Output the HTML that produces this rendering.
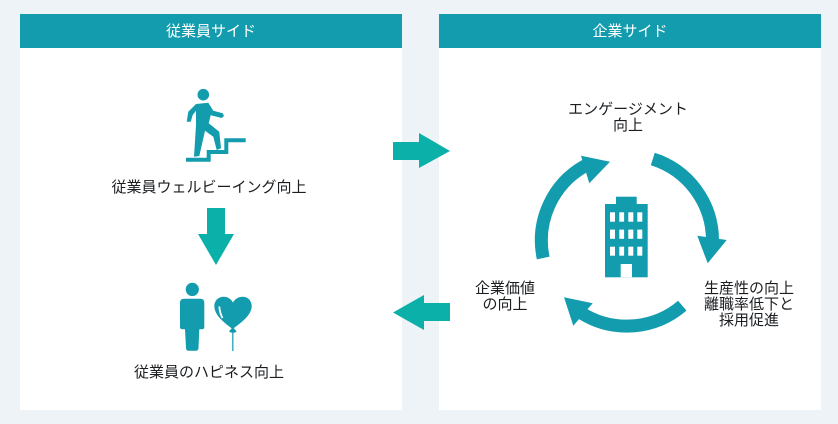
<!DOCTYPE html>
<html lang="ja"><head><meta charset="utf-8">
<style>
html,body{margin:0;padding:0}
body{width:838px;height:424px;background:#edf3f6;position:relative;overflow:hidden;font-family:"Liberation Sans","Noto Sans CJK JP",sans-serif}
.p{position:absolute;top:14px;width:382px;height:396px;background:#fff}
.h{height:34px;background:#139cae;color:#fff;font-size:15px;letter-spacing:0;line-height:35px;text-align:center}
.t{position:absolute;color:#1b1e21;font-size:15px;letter-spacing:0;line-height:16px;text-align:center;white-space:nowrap;transform:translateX(-50%)}
svg{position:absolute;left:0;top:0}
</style></head><body>
<div class="p" style="left:20px"><div class="h">従業員サイド</div></div>
<div class="p" style="left:439px"><div class="h">企業サイド</div></div>
<svg width="838" height="424" viewBox="0 0 838 424">
<g fill="#0bb0a9">
<polygon points="393,142 419,142 419,133 450,151 419,168 419,160 393,160"/>
<polygon points="450,303 424,303 424,295 393,312.5 424,330 424,321 450,321"/>
<polygon points="207,208 225,208 225,234 234,234 216,265 198,234 207,234"/>
</g>
<g fill="#139cae" stroke="none">
<circle cx="203.3" cy="94.7" r="5.8"/>
<path d="M196,104 L208.300,102.700 L213.300,110.700 L222.700,113.300 L224,116 L221.700,118 L210.700,115.300 L208.700,123.300 L219.300,131.700 L221,148.300 L216.700,150 L213.300,136.700 L205,130.700 L199.300,156 L194,156.700 L196,125 L196,110.700 L192.700,115 L190.700,121.700 L186.700,121.700 L188.300,111.700Z"/>
</g>
<polyline points="186,159.700 208.700,159.700 208.700,152 226.300,152 226.300,140.300 245.700,140.300" fill="none" stroke="#139cae" stroke-width="4"/>
<g fill="#139cae">
<circle cx="192.300" cy="289.400" r="6.600"/>
<path d="M184,298.700 H200.300 Q204.300,298.700 204.300,302.700 V327 Q204.300,329.300 202,329.300 H199.300 L198.500,348 Q198.300,350.800 196,350.800 H188.500 Q186.200,350.800 186,348 L185,329.300 H182.300 Q180,329.300 180,327 V302.700 Q180,298.700 184,298.700Z"/>
<path d="M232.700,329 C226,324 214.300,316 214.300,306 C214.300,300 219,296.700 223.500,296.700 C228,296.700 231,299 233,302.500 C235,299 238,296.700 243,296.700 C248,296.700 251.700,301 251.700,306 C251.700,316 239,324 232.700,329Z"/>
<path d="M232.700,327 L236.700,331.500 Q233,334.500 229,331.500Z"/>
</g>
<path d="M219.300,306.500 Q219.800,313 222.500,318" fill="none" stroke="#fff" stroke-width="1.800"/>
<line x1="232.800" y1="333" x2="232.800" y2="351" stroke="#139cae" stroke-width="1.200"/>
<g fill="none" stroke="#139cae" stroke-width="13">
<path d="M652.800,159 A85.500,85.500 0 0 1 712.500,240.500"/>
<path d="M682.300,305.700 A85.500,85.500 0 0 1 581,312.800"/>
<path d="M543.200,258 A85.500,85.500 0 0 1 585.300,165.700"/>
</g>
<g fill="#139cae">
<polygon points="697.300,235.700 726.700,240 707.700,263.300"/>
<polygon points="592.700,303.300 573.300,325.700 564,297.300"/>
<polygon points="581,155.700 589.300,183.300 610,161.700"/>
<rect x="605" y="204" width="42.700" height="73.300"/>
<rect x="616" y="196.700" width="20.700" height="8"/>
</g>
<g fill="#fff">
<rect x="610" y="212.300" width="5" height="9.400"/><rect x="619.300" y="212.300" width="4.800" height="9.400"/><rect x="628.300" y="212.300" width="5" height="9.400"/><rect x="637.300" y="212.300" width="5" height="9.400"/>
<rect x="610" y="229.600" width="5" height="9.200"/><rect x="619.300" y="229.600" width="4.800" height="9.200"/><rect x="628.300" y="229.600" width="5" height="9.200"/><rect x="637.300" y="229.600" width="5" height="9.200"/>
<rect x="610" y="246.700" width="5" height="9"/><rect x="619.300" y="246.700" width="4.800" height="9"/><rect x="628.300" y="246.700" width="5" height="9"/><rect x="637.300" y="246.700" width="5" height="9"/>
<rect x="620.700" y="264" width="11.300" height="13.300"/>
</g>
</svg>
<div class="t" style="left:209px;top:180px">従業員ウェルビーイング向上</div>
<div class="t" style="left:209px;top:365px">従業員のハピネス向上</div>
<div class="t" style="left:628px;top:102px">エンゲージメント<br>向上</div>
<div class="t" style="left:505px;top:281px">企業価値<br>の向上</div>
<div class="t" style="left:749px;top:281px">生産性の向上<br>離職率低下と<br>採用促進</div>
</body></html>
